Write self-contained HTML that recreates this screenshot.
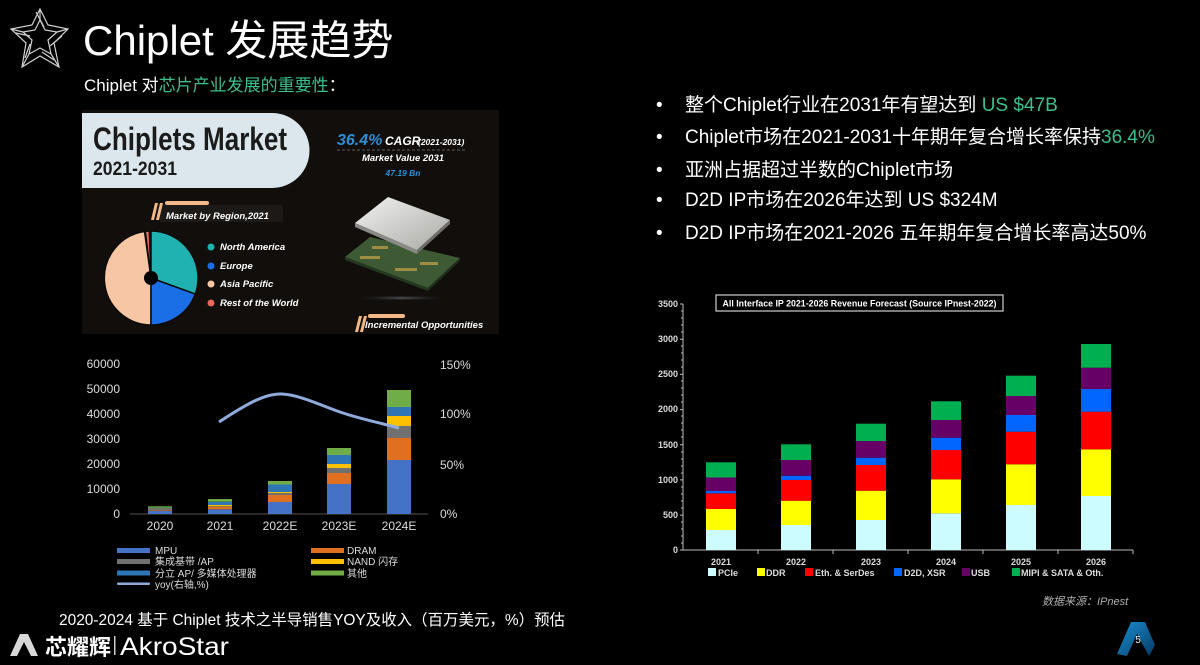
<!DOCTYPE html>
<html><head><meta charset="utf-8">
<style>
html,body{margin:0;padding:0;background:#000;}
svg{display:block;}
.s{font-family:"Liberation Sans","Noto Sans CJK SC",sans-serif;}
.b{font-weight:bold;}
.i{font-style:italic;}
</style></head>
<body>
<svg width="1200" height="665" viewBox="0 0 1200 665" xmlns="http://www.w3.org/2000/svg" class="s">
<rect width="1200" height="665" fill="#000"/>

<!-- star icon -->
<g fill="none" stroke="#e8e8e8" stroke-width="1.2" opacity="0.9">
  <polygon points="40,9 48,25 68,29 54,43 59,67 40,56 22,67 26,43 11,29 32,25"/>
  <polygon points="40,20 45,30 57,32 48,40 51,54 40,48 29,54 32,40 23,32 35,30"/>
  <line x1="40" y1="9" x2="40" y2="20"/><line x1="68" y1="29" x2="57" y2="32"/>
  <line x1="59" y1="67" x2="51" y2="54"/><line x1="22" y1="67" x2="29" y2="54"/>
  <line x1="11" y1="29" x2="23" y2="32"/>
  <line x1="36" y1="12" x2="44" y2="27"/><line x1="62" y1="36" x2="50" y2="46"/>
  <line x1="54" y1="60" x2="42" y2="52"/><line x1="25" y1="58" x2="30" y2="44"/>
  <line x1="16" y1="33" x2="30" y2="36"/>
</g>

<!-- title -->
<text x="83" y="55" font-size="42" fill="#fff">Chiplet 发展趋势</text>
<text x="84" y="91" font-size="17" fill="#fff">Chiplet 对<tspan fill="#3cbf8d">芯片产业发展的重要性</tspan>：</text>

<!-- infographic panel -->
<rect x="82" y="110" width="417" height="224" fill="#110e0c"/>
<path d="M82,113 H272 A37.5,37.5 0 0 1 272,188 H82 Z" fill="#dbe7ec"/>
<text x="93" y="150" font-size="32" class="b" fill="#1b1b1b" textLength="194" lengthAdjust="spacingAndGlyphs">Chiplets Market</text>
<text x="93" y="175" font-size="19" class="b" fill="#1b1b1b" textLength="84" lengthAdjust="spacingAndGlyphs">2021-2031</text>

<text x="337" y="145" font-size="16" class="b i" fill="#2a8fd6">36.4%</text>
<text x="385" y="145" font-size="12" class="b i" fill="#fff">CAGR</text>
<text x="418" y="145" font-size="8.5" class="b i" fill="#fff">(2021-2031)</text>
<line x1="337" y1="150" x2="466" y2="150" stroke="#777" stroke-width="0.8" stroke-dasharray="3,2"/>
<text x="403" y="161" font-size="9.5" class="b i" fill="#fff" text-anchor="middle">Market Value 2031</text>
<text x="403" y="176" font-size="8.5" class="b i" fill="#2a8fd6" text-anchor="middle">47.19 Bn</text>

<!-- market by region label -->
<rect x="160" y="205" width="123" height="17" fill="#1c1917"/>
<polygon points="151,220 155,203 158,203 154,220" fill="#f2b887"/>
<polygon points="156,220 160,203 163,203 159,220" fill="#f2b887"/>
<rect x="165" y="201" width="44" height="4" rx="2" fill="#f2b887"/>
<text x="166" y="219" font-size="9.5" class="b i" fill="#fff">Market by Region,2021</text>

<!-- pie -->
<g stroke="#0d0b0a" stroke-width="1.5">
  <path d="M151,278 L151,325 A47,47 0 0 1 144.5,231.5 Z" fill="#f7c7a5"/>
  <path d="M151,278 L151,231 A47,47 0 0 1 195.2,294.1 Z" fill="#20b2b0"/>
  <path d="M151,278 L195.2,294.1 A47,47 0 0 1 151,325 Z" fill="#1a6fe6"/>
  <path d="M151,278 L145.3,231.4 A47,47 0 0 1 149.4,231 Z" fill="#e8685a"/>
</g>
<circle cx="151" cy="278" r="7" fill="#000"/>
<circle cx="211" cy="247" r="3.5" fill="#20b2b0"/>
<circle cx="211" cy="266" r="3.5" fill="#1a6fe6"/>
<circle cx="211" cy="284" r="3.5" fill="#f7c7a5"/>
<circle cx="211" cy="303" r="3.5" fill="#e8685a"/>
<g font-size="9.5" class="b i" fill="#fff">
  <text x="220" y="250">North America</text>
  <text x="220" y="269">Europe</text>
  <text x="220" y="287">Asia Pacific</text>
  <text x="220" y="306">Rest of the World</text>
</g>

<!-- chip -->
<defs>
  <linearGradient id="lid" x1="0" y1="0" x2="1" y2="1">
    <stop offset="0" stop-color="#f2f2f0"/><stop offset="1" stop-color="#a9a9a6"/>
  </linearGradient>
  <radialGradient id="glow" cx="0.5" cy="0.5" r="0.5">
    <stop offset="0" stop-color="#555"/><stop offset="1" stop-color="#111" stop-opacity="0"/>
  </radialGradient>
  <linearGradient id="badge" x1="0" y1="0" x2="1" y2="1">
    <stop offset="0" stop-color="#1a8fd0"/><stop offset="1" stop-color="#063a66"/>
  </linearGradient>
</defs>
<ellipse cx="402" cy="298" rx="48" ry="3" fill="url(#glow)"/>
<polygon points="345,257 370,237 460,258 428,288" fill="#3e5a35"/>
<polygon points="345,257 428,288 428,291 345,260" fill="#243820"/>
<polygon points="428,288 460,258 460,261 428,291" fill="#1e2e1a"/>
<g fill="#b59a4a" opacity="0.8">
  <rect x="360" y="256" width="20" height="3"/><rect x="395" y="268" width="22" height="3"/>
  <rect x="420" y="262" width="18" height="3"/><rect x="372" y="246" width="16" height="3"/>
</g>
<polygon points="355,223 388,197 450,220 417,250" fill="url(#lid)"/>
<polygon points="355,223 417,250 417,254 355,227" fill="#8a8a87"/>
<polygon points="417,250 450,220 450,224 417,254" fill="#6d6d6a"/>

<!-- incremental opportunities -->
<polygon points="355,332 359,316 362,316 358,332" fill="#f2b887"/>
<polygon points="360,332 364,316 367,316 363,332" fill="#f2b887"/>
<rect x="368" y="314" width="37" height="4" rx="2" fill="#f2b887"/>
<text x="365" y="328" font-size="9.5" class="b i" fill="#fff">Incremental Opportunities</text>

<!-- left bar chart -->
<g font-size="12" fill="#ddd" text-anchor="end">
  <text x="120" y="368">60000</text><text x="120" y="393">50000</text>
  <text x="120" y="418">40000</text><text x="120" y="443">30000</text>
  <text x="120" y="468">20000</text><text x="120" y="493">10000</text>
  <text x="120" y="518">0</text>
</g>
<g font-size="12" fill="#ddd">
  <text x="440" y="369">150%</text><text x="440" y="418">100%</text>
  <text x="440" y="469">50%</text><text x="440" y="518">0%</text>
</g>
<line x1="130" y1="514" x2="428" y2="514" stroke="#555" stroke-width="1"/>
<g font-size="12" fill="#ddd" text-anchor="middle">
  <text x="160" y="530">2020</text><text x="220" y="530">2021</text>
  <text x="280" y="530">2022E</text><text x="339" y="530">2023E</text><text x="399" y="530">2024E</text>
</g>
<!-- 2020 -->
<rect x="148" y="511" width="24" height="3" fill="#4472c4"/>
<rect x="148" y="510.3" width="24" height="0.7" fill="#e0701f"/>
<rect x="148" y="508.5" width="24" height="1.8" fill="#707070"/>
<rect x="148" y="508.2" width="24" height="0.3" fill="#ffc000"/>
<rect x="148" y="507.7" width="24" height="0.5" fill="#2e75b6"/>
<rect x="148" y="506.3" width="24" height="1.4" fill="#70ad47"/>
<!-- 2021 -->
<rect x="208" y="509.3" width="24" height="4.7" fill="#4472c4"/>
<rect x="208" y="507" width="24" height="2.3" fill="#e0701f"/>
<rect x="208" y="506.3" width="24" height="0.7" fill="#707070"/>
<rect x="208" y="505" width="24" height="1.3" fill="#ffc000"/>
<rect x="208" y="501.7" width="24" height="3.3" fill="#2e75b6"/>
<rect x="208" y="499" width="24" height="2.7" fill="#70ad47"/>
<!-- 2022E -->
<rect x="268" y="502" width="24" height="12" fill="#4472c4"/>
<rect x="268" y="495" width="24" height="7" fill="#e0701f"/>
<rect x="268" y="493" width="24" height="2" fill="#707070"/>
<rect x="268" y="492" width="24" height="1" fill="#ffc000"/>
<rect x="268" y="484.5" width="24" height="7.5" fill="#2e75b6"/>
<rect x="268" y="481" width="24" height="3.5" fill="#70ad47"/>
<!-- 2023E -->
<rect x="327" y="484" width="24" height="30" fill="#4472c4"/>
<rect x="327" y="473" width="24" height="11" fill="#e0701f"/>
<rect x="327" y="468" width="24" height="5" fill="#707070"/>
<rect x="327" y="464" width="24" height="4" fill="#ffc000"/>
<rect x="327" y="455" width="24" height="9" fill="#2e75b6"/>
<rect x="327" y="448" width="24" height="7" fill="#70ad47"/>
<!-- 2024E -->
<rect x="387" y="460" width="24" height="54" fill="#4472c4"/>
<rect x="387" y="438" width="24" height="22" fill="#e0701f"/>
<rect x="387" y="426" width="24" height="12" fill="#707070"/>
<rect x="387" y="416" width="24" height="10" fill="#ffc000"/>
<rect x="387" y="407" width="24" height="9" fill="#2e75b6"/>
<rect x="387" y="390" width="24" height="17" fill="#70ad47"/>
<!-- yoy -->
<path d="M219,422 C245,405 265,393 282,394 C300,395 320,405 340,412 C360,419 385,424 399,428" fill="none" stroke="#8faadc" stroke-width="3"/>

<!-- left legend -->
<rect x="117" y="548" width="33" height="5" fill="#4472c4"/>
<rect x="117" y="559" width="33" height="5" fill="#707070"/>
<rect x="117" y="570.5" width="33" height="5" fill="#2e75b6"/>
<rect x="117" y="582.5" width="33" height="2.5" rx="1" fill="#8faadc"/>
<rect x="311" y="548" width="33" height="5" fill="#e0701f"/>
<rect x="311" y="559" width="33" height="5" fill="#ffc000"/>
<rect x="311" y="570.5" width="33" height="5" fill="#70ad47"/>
<g font-size="10" fill="#ddd">
  <text x="155" y="554">MPU</text>
  <text x="155" y="565">集成基带 /AP</text>
  <text x="155" y="577">分立 AP/ 多媒体处理器</text>
  <text x="155" y="588">yoy(右轴,%)</text>
  <text x="347" y="554">DRAM</text>
  <text x="347" y="565">NAND 闪存</text>
  <text x="347" y="577">其他</text>
</g>

<!-- caption -->
<text x="59" y="625" font-size="15.5" fill="#fff" textLength="506" lengthAdjust="spacingAndGlyphs">2020-2024 基于 Chiplet 技术之半导销售YOY及收入（百万美元，%）预估</text>

<!-- logo -->
<polygon points="10,656 20,634 28,634 38,656 31,656 24,642 17,656" fill="#d8d8d8"/>
<text x="45" y="655" font-size="22" class="b" fill="#fff" textLength="66" lengthAdjust="spacingAndGlyphs">芯耀辉</text>
<rect x="114" y="636" width="1.5" height="19" fill="#ccc"/>
<text x="120" y="655" font-size="25" fill="#fff" textLength="109" lengthAdjust="spacingAndGlyphs">AkroStar</text>

<!-- bullets -->
<g font-size="19" fill="#fff">
  <text x="656" y="111">•</text><text x="685" y="111">整个Chiplet行业在2031年有望达到 <tspan fill="#3cbf8d">US $47B</tspan></text>
  <text x="656" y="143">•</text><text x="685" y="143">Chiplet市场在2021-2031十年期年复合增长率保持<tspan fill="#3cbf8d">36.4%</tspan></text>
  <text x="656" y="176">•</text><text x="685" y="176">亚洲占据超过半数的Chiplet市场</text>
  <text x="656" y="206">•</text><text x="685" y="206">D2D IP市场在2026年达到 US $324M</text>
  <text x="656" y="239">•</text><text x="685" y="239">D2D IP市场在2021-2026 五年期年复合增长率高达50%</text>
</g>

<!-- right chart -->
<rect x="716" y="295" width="287" height="16" fill="none" stroke="#cfcfcf" stroke-width="1.2"/>
<text x="859.5" y="306.5" font-size="9" class="b" fill="#fff" text-anchor="middle" textLength="274" lengthAdjust="spacingAndGlyphs">All Interface IP 2021-2026 Revenue Forecast (Source IPnest-2022)</text>
<g font-size="9" class="b" fill="#ddd" text-anchor="end">
  <text x="678" y="307">3500</text><text x="678" y="342">3000</text>
  <text x="678" y="377">2500</text><text x="678" y="412">2000</text>
  <text x="678" y="448">1500</text><text x="678" y="483">1000</text>
  <text x="678" y="518">500</text><text x="678" y="553">0</text>
</g>
<line x1="683" y1="304" x2="683" y2="550" stroke="#bbb" stroke-width="1"/>
<line x1="683" y1="550" x2="1133" y2="550" stroke="#bbb" stroke-width="1"/>
<g stroke="#bbb" stroke-width="1">
  <path d="M680,304H683M680,339.2H683M680,374.4H683M680,409.6H683M680,444.7H683M680,479.9H683M680,515.1H683M680,550H683"/>
  <path d="M681,311H683M681,318H683M681,325H683M681,332H683M681,346H683M681,353H683M681,360H683M681,367H683M681,381H683M681,388H683M681,395H683M681,402H683M681,416H683M681,423H683M681,430H683M681,437H683M681,452H683M681,459H683M681,466H683M681,473H683M681,487H683M681,494H683M681,501H683M681,508H683M681,522H683M681,529H683M681,536H683M681,543H683"/>
  <path d="M758,550V554M833,550V554M908,550V554M983,550V554M1058,550V554M1133,550V554"/>
</g>
<!-- bars: PCIe, DDR, Eth, D2D, USB, MIPI -->
<g>
  <!-- 2021 -->
  <rect x="706" y="530" width="30" height="20" fill="#ccfcff"/>
  <rect x="706" y="509" width="30" height="21" fill="#ffff00"/>
  <rect x="706" y="493.3" width="30" height="15.7" fill="#ff0000"/>
  <rect x="706" y="491" width="30" height="2.3" fill="#0066ff"/>
  <rect x="706" y="477.5" width="30" height="13.5" fill="#660066"/>
  <rect x="706" y="462.3" width="30" height="15.2" fill="#00b050"/>
  <!-- 2022 -->
  <rect x="781" y="525" width="30" height="25" fill="#ccfcff"/>
  <rect x="781" y="500.7" width="30" height="24.3" fill="#ffff00"/>
  <rect x="781" y="480" width="30" height="20.7" fill="#ff0000"/>
  <rect x="781" y="475.7" width="30" height="4.3" fill="#0066ff"/>
  <rect x="781" y="460" width="30" height="15.7" fill="#660066"/>
  <rect x="781" y="444.3" width="30" height="15.7" fill="#00b050"/>
  <!-- 2023 -->
  <rect x="856" y="520" width="30" height="30" fill="#ccfcff"/>
  <rect x="856" y="490.7" width="30" height="29.3" fill="#ffff00"/>
  <rect x="856" y="465" width="30" height="25.7" fill="#ff0000"/>
  <rect x="856" y="457.7" width="30" height="7.3" fill="#0066ff"/>
  <rect x="856" y="441" width="30" height="16.7" fill="#660066"/>
  <rect x="856" y="423.7" width="30" height="17.3" fill="#00b050"/>
  <!-- 2024 -->
  <rect x="931" y="513.3" width="30" height="36.7" fill="#ccfcff"/>
  <rect x="931" y="479.3" width="30" height="34" fill="#ffff00"/>
  <rect x="931" y="450" width="30" height="29.3" fill="#ff0000"/>
  <rect x="931" y="437.7" width="30" height="12.3" fill="#0066ff"/>
  <rect x="931" y="420" width="30" height="17.7" fill="#660066"/>
  <rect x="931" y="401.3" width="30" height="18.7" fill="#00b050"/>
  <!-- 2025 -->
  <rect x="1006" y="505" width="30" height="45" fill="#ccfcff"/>
  <rect x="1006" y="464.3" width="30" height="40.7" fill="#ffff00"/>
  <rect x="1006" y="431.7" width="30" height="32.6" fill="#ff0000"/>
  <rect x="1006" y="415" width="30" height="16.7" fill="#0066ff"/>
  <rect x="1006" y="396" width="30" height="19" fill="#660066"/>
  <rect x="1006" y="375.7" width="30" height="20.3" fill="#00b050"/>
  <!-- 2026 -->
  <rect x="1081" y="496" width="30" height="54" fill="#ccfcff"/>
  <rect x="1081" y="449.3" width="30" height="46.7" fill="#ffff00"/>
  <rect x="1081" y="411.7" width="30" height="37.6" fill="#ff0000"/>
  <rect x="1081" y="389" width="30" height="22.7" fill="#0066ff"/>
  <rect x="1081" y="367.7" width="30" height="21.3" fill="#660066"/>
  <rect x="1081" y="344" width="30" height="23.7" fill="#00b050"/>
</g>
<g font-size="9" class="b" fill="#ddd" text-anchor="middle">
  <text x="721" y="565">2021</text><text x="796" y="565">2022</text><text x="871" y="565">2023</text>
  <text x="946" y="565">2024</text><text x="1021" y="565">2025</text><text x="1096" y="565">2026</text>
</g>
<rect x="708" y="568" width="8" height="8" fill="#ccfcff"/>
<rect x="757" y="568" width="8" height="8" fill="#ffff00"/>
<rect x="805" y="568" width="8" height="8" fill="#ff0000"/>
<rect x="894" y="568" width="8" height="8" fill="#0066ff"/>
<rect x="962" y="568" width="8" height="8" fill="#660066"/>
<rect x="1012" y="568" width="8" height="8" fill="#00b050"/>
<g font-size="9" class="b" fill="#ddd">
  <text x="718" y="576">PCIe</text><text x="766" y="576">DDR</text>
  <text x="815" y="576">Eth. &amp; SerDes</text><text x="904" y="576">D2D, XSR</text>
  <text x="971" y="576">USB</text><text x="1021" y="576">MIPI &amp; SATA &amp; Oth.</text>
</g>
<text x="1042" y="605" font-size="11" class="i" fill="#b0b0b0">数据来源：IPnest</text>

<!-- page badge -->
<polygon points="1117,654 1131,622 1145,622 1155,645 1149,656 1137,634 1127,656" fill="url(#badge)"/>
<text x="1138" y="643" font-size="10" fill="#e8f4ff" text-anchor="middle">5</text>
</svg>
</body></html>
